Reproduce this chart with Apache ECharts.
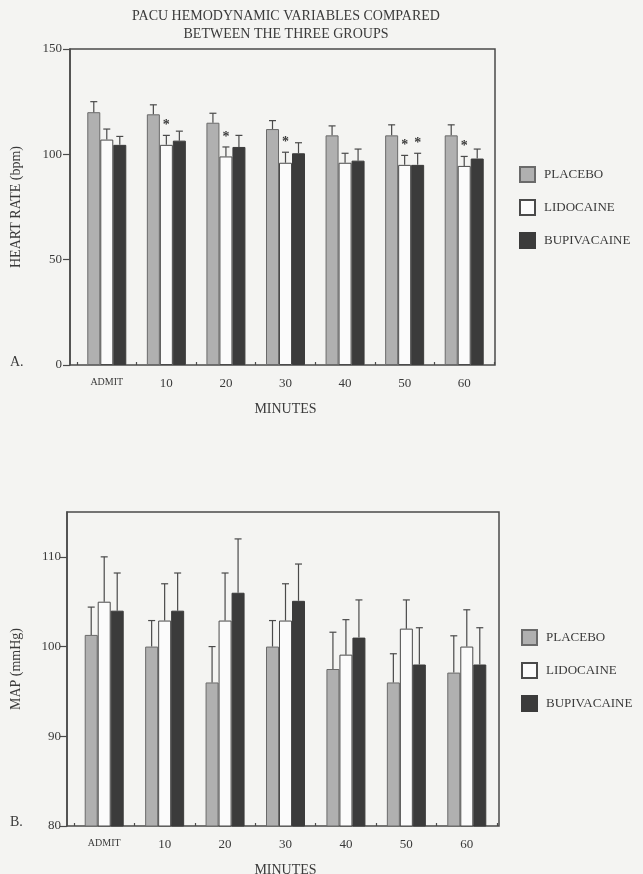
<!DOCTYPE html>
<html>
<head>
<meta charset="utf-8">
<script src="https://cdn.jsdelivr.net/npm/echarts@6/dist/echarts.min.js"></script>
<style>
html,body{margin:0;padding:0;background:#f4f4f2;}
#c{width:643px;height:874px;}
</style>
</head>
<body>
<div id="c"></div>
<script>
// ---- data ----
var categories = ['ADMIT', '10', '20', '30', '40', '50', '60'];
var seriesNames = ['PLACEBO', 'LIDOCAINE', 'BUPIVACAINE'];

// Heart rate (bpm): means and SD (upper whisker length)
var hrPlacebo = [120, 119, 115, 112, 109, 109, 109];
var hrPlaceboSd = [5, 4.5, 4.5, 4, 4.5, 5, 5];
var hrLido = [107, 104.5, 99, 96, 96, 95, 94.5];
var hrLidoSd = [5, 4.5, 4.5, 5, 4.5, 4.5, 4.5];
var hrBupi = [104.5, 106.5, 103.5, 100.5, 97, 95, 98];
var hrBupiSd = [4, 4.5, 5.5, 5, 5.5, 5.5, 4.5];
var hrSigPlacebo = [0, 0, 0, 0, 0, 0, 0];
var hrSigLido = [0, 1, 1, 1, 0, 1, 1];
var hrSigBupi = [0, 0, 0, 0, 0, 1, 0];
var hrTicks = [0, 50, 100, 150];

// MAP (mmHg)
var mapPlacebo = [101.3, 100, 96, 100, 97.5, 96, 97.1];
var mapPlaceboSd = [3.1, 2.9, 4, 2.9, 4.1, 3.2, 4.1];
var mapLido = [105, 102.9, 102.9, 102.9, 99.1, 102, 100];
var mapLidoSd = [5, 4.1, 5.3, 4.1, 3.9, 3.2, 4.1];
var mapBupi = [104, 104, 106, 105.1, 101, 98, 98];
var mapBupiSd = [4.2, 4.2, 6, 4.1, 4.2, 4.1, 4.1];
var mapSig = [0, 0, 0, 0, 0, 0, 0];
var mapTicks = [80, 90, 100, 110];

// ---- styles ----
var FONT = 'Liberation Serif';
var TXT = '#3a3a3a';
var LINE = '#4a4a4a';
var BAR_W = 13;
var colors = ['#b0b0b0', '#fbfbfb', '#3b3b3b'];
var borders = ['#6a6a6a', '#4a4a4a', '#3b3b3b'];

var chart = echarts.init(document.getElementById('c'), null, {renderer: 'canvas'});

function barSeries(name, idx, data, axisIdx) {
  return {
    type: 'bar', name: name, xAxisIndex: axisIdx, yAxisIndex: axisIdx,
    data: data, barWidth: BAR_W, barGap: '0%',
    itemStyle: {color: colors[idx], borderColor: borders[idx], borderWidth: 1},
    emphasis: {disabled: true}, silent: true, z: 2
  };
}

function errSeries(name, idx, means, sds, sig, axisIdx) {
  var rows = means.map(function (m, i) { return [i, m, m + sds[i], sig[i]]; });
  return {
    type: 'custom', name: name, xAxisIndex: axisIdx, yAxisIndex: axisIdx,
    data: rows, silent: true, z: 5,
    renderItem: function (params, api) {
      var c = api.value(0);
      var p0 = api.coord([c, api.value(1)]);
      var p1 = api.coord([c, api.value(2)]);
      var x = p0[0] + (idx - 1) * BAR_W;
      var st = {stroke: LINE, lineWidth: 1.2};
      var children = [
        {type: 'line', shape: {x1: x, y1: p0[1], x2: x, y2: p1[1]}, style: st},
        {type: 'line', shape: {x1: x - 3.5, y1: p1[1], x2: x + 3.5, y2: p1[1]}, style: st}
      ];
      if (api.value(3)) {
        children.push({type: 'text', style: {text: '*', x: x, y: p1[1] - 3, textAlign: 'center', textVerticalAlign: 'bottom', font: 'bold 14px ' + FONT, fill: TXT}});
      }
      return {type: 'group', children: children};
    }
  };
}

function catAxis(gridIndex) {
  return {
    type: 'category', gridIndex: gridIndex, data: categories,
    boundaryGap: true,
    name: 'MINUTES', nameLocation: 'middle', nameGap: 37,
    nameTextStyle: {fontFamily: FONT, fontSize: 14, color: TXT},
    axisLine: {show: false},
    axisTick: {show: true, alignWithLabel: false, length: 3, inside: true, lineStyle: {color: LINE, width: 1.2}},
    axisLabel: {
      interval: 0, margin: 12, fontFamily: FONT, fontSize: 13, color: TXT,
      formatter: function (v) { return v === 'ADMIT' ? '{s|' + v + '}' : v; },
      rich: {s: {fontFamily: FONT, fontSize: 10, color: TXT}}
    }
  };
}

var option = {
  backgroundColor: '#f4f4f2',
  animation: false,
  textStyle: {fontFamily: FONT},
  grid: [
    // top frame
    {left: 70, top: 49, width: 425, height: 316, show: true, borderColor: LINE, borderWidth: 1.5, backgroundColor: 'transparent', outerBoundsMode: 'none', containLabel: false},
    // top bars
    {left: 77, top: 49, width: 417, height: 316, outerBoundsMode: 'none', containLabel: false},
    // bottom frame
    {left: 67, top: 512, width: 432, height: 314, show: true, borderColor: LINE, borderWidth: 1.5, backgroundColor: 'transparent', outerBoundsMode: 'none', containLabel: false},
    // bottom bars
    {left: 74, top: 512, width: 423, height: 314, outerBoundsMode: 'none', containLabel: false}
  ],
  xAxis: [
    {type: 'value', gridIndex: 0, show: false, min: 0, max: 1},
    catAxis(1),
    {type: 'value', gridIndex: 2, show: false, min: 0, max: 1},
    catAxis(3)
  ],
  yAxis: [
    {
      type: 'value', gridIndex: 0, min: 0, max: 150, interval: 50,
      name: 'HEART RATE (bpm)', nameLocation: 'middle', nameGap: 47,
      nameTextStyle: {fontFamily: FONT, fontSize: 14, color: TXT},
      axisLine: {show: true, lineStyle: {color: LINE, width: 1.5}},
      axisTick: {show: true, length: 7, lineStyle: {color: LINE, width: 1.2}, customValues: hrTicks},
      axisLabel: {fontFamily: FONT, fontSize: 13, color: TXT, margin: 8, customValues: hrTicks},
      splitLine: {show: false}
    },
    {type: 'value', gridIndex: 1, min: 0, max: 150, show: false, splitLine: {show: false}},
    {
      type: 'value', gridIndex: 2, min: 80, max: 115,
      name: 'MAP (mmHg)', nameLocation: 'middle', nameGap: 44,
      nameTextStyle: {fontFamily: FONT, fontSize: 14, color: TXT},
      axisLine: {show: true, lineStyle: {color: LINE, width: 1.5}},
      axisTick: {show: true, length: 7, lineStyle: {color: LINE, width: 1.2}, customValues: mapTicks},
      axisLabel: {fontFamily: FONT, fontSize: 13, color: TXT, margin: 6, customValues: mapTicks},
      splitLine: {show: false}
    },
    {type: 'value', gridIndex: 3, min: 80, max: 115, show: false, splitLine: {show: false}}
  ],
  legend: [
    {
      orient: 'vertical', left: 514, top: 161, itemWidth: 15, itemHeight: 15, itemGap: 16,
      icon: 'rect', selectedMode: false,
      textStyle: {fontFamily: FONT, fontSize: 13, color: TXT, padding: [0, 0, 0, 4]},
      data: seriesNames
    },
    {
      orient: 'vertical', left: 516, top: 624, itemWidth: 15, itemHeight: 15, itemGap: 16,
      icon: 'rect', selectedMode: false,
      textStyle: {fontFamily: FONT, fontSize: 13, color: TXT, padding: [0, 0, 0, 4]},
      data: seriesNames
    }
  ],
  graphic: [
    {type: 'text', x: 286, y: 7, style: {text: 'PACU HEMODYNAMIC VARIABLES COMPARED\nBETWEEN THE THREE GROUPS', textAlign: 'center', font: '14px ' + FONT, fill: TXT, lineHeight: 18}},
    {type: 'text', x: 10, y: 355, style: {text: 'A.', font: '14px ' + FONT, fill: TXT}},
    {type: 'text', x: 10, y: 815, style: {text: 'B.', font: '14px ' + FONT, fill: TXT}}
  ],
  series: [
    barSeries(seriesNames[0], 0, hrPlacebo, 1),
    barSeries(seriesNames[1], 1, hrLido, 1),
    barSeries(seriesNames[2], 2, hrBupi, 1),
    errSeries(seriesNames[0], 0, hrPlacebo, hrPlaceboSd, hrSigPlacebo, 1),
    errSeries(seriesNames[1], 1, hrLido, hrLidoSd, hrSigLido, 1),
    errSeries(seriesNames[2], 2, hrBupi, hrBupiSd, hrSigBupi, 1),
    barSeries(seriesNames[0], 0, mapPlacebo, 3),
    barSeries(seriesNames[1], 1, mapLido, 3),
    barSeries(seriesNames[2], 2, mapBupi, 3),
    errSeries(seriesNames[0], 0, mapPlacebo, mapPlaceboSd, mapSig, 3),
    errSeries(seriesNames[1], 1, mapLido, mapLidoSd, mapSig, 3),
    errSeries(seriesNames[2], 2, mapBupi, mapBupiSd, mapSig, 3)
  ]
};
chart.setOption(option);
</script>
</body>
</html>
